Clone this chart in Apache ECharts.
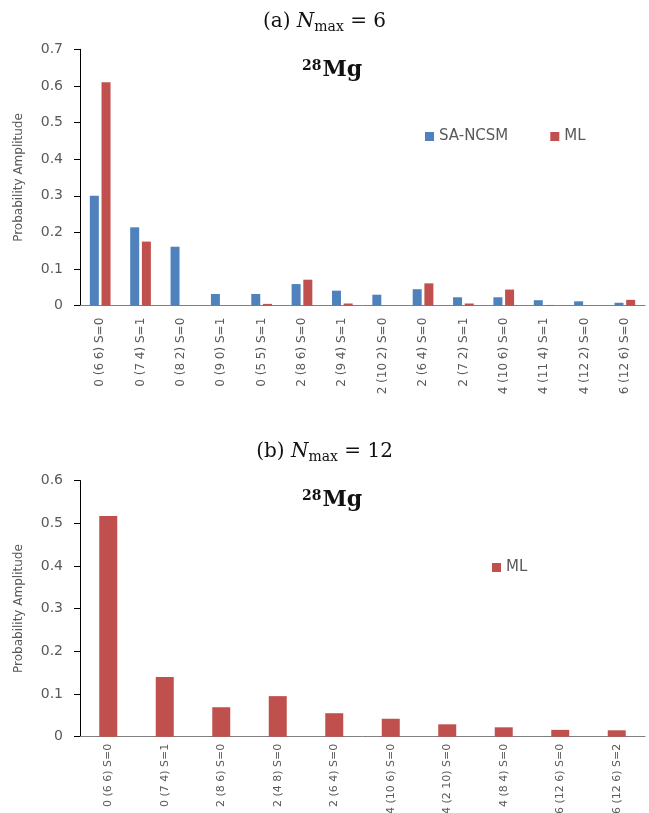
<!DOCTYPE html>
<html>
<head>
<meta charset="utf-8">
<script src="https://cdn.jsdelivr.net/npm/echarts@6/dist/echarts.min.js"></script>
<style>
	html, body { margin: 0; padding: 0; background: #fff; }
	#chart { width: 649px; height: 813px; }
</style>
</head>
<body>
<div id="chart"></div>
<script>
// (a) Nmax = 6
const categoriesA = [
	"0 (6 6) S=0", "0 (7 4) S=1", "0 (8 2) S=0", "0 (9 0) S=1", "0 (5 5) S=1",
	"2 (8 6) S=0", "2 (9 4) S=1", "2 (10 2) S=0", "2 (6 4) S=0", "2 (7 2) S=1",
	"4 (10 6) S=0", "4 (11 4) S=1", "4 (12 2) S=0", "6 (12 6) S=0"
];
const saNcsmA = [0.300, 0.214, 0.161, 0.032, 0.032, 0.059, 0.041, 0.030, 0.045, 0.023, 0.023, 0.015, 0.012, 0.008];
const mlA = [0.610, 0.175, 0, 0, 0.005, 0.071, 0.006, 0, 0.061, 0.006, 0.044, 0.002, 0, 0.016];

// (b) Nmax = 12
const categoriesB = [
	"0 (6 6) S=0", "0 (7 4) S=1", "2 (8 6) S=0", "2 (4 8) S=0", "2 (6 4) S=0",
	"4 (10 6) S=0", "4 (2 10) S=0", "4 (8 4) S=0", "6 (12 6) S=0", "6 (12 6) S=2"
];
const mlB = [0.517, 0.140, 0.069, 0.095, 0.055, 0.042, 0.029, 0.022, 0.016, 0.015];

const blue = "#4F81BD";
const red = "#C0504D";
const grey = "#595959";
const sans = "DejaVu Sans";
const serif = "DejaVu Serif";

function yAxisFor(idx, max) {
	return {
		gridIndex: idx,
		type: "value",
		min: 0,
		max: max,
		interval: 0.1,
		name: "Probability Amplitude",
		nameLocation: "middle",
		nameGap: 55,
		nameTextStyle: { color: grey, fontFamily: sans, fontSize: 12 },
		axisLine: { show: true, lineStyle: { color: "#000", width: 1 } },
		axisTick: { show: true, length: 6, lineStyle: { color: "#000" } },
		splitLine: { show: false },
		axisLabel: {
			color: grey,
			fontFamily: sans,
			fontSize: 14,
			margin: 17,
			formatter: function(v) {
				return v === 0 ? "0" : v.toFixed(1);
			}
		}
	};
}

function xAxisFor(idx, data, size, gap) {
	return {
		gridIndex: idx,
		type: "category",
		data: data,
		axisLine: { show: true, lineStyle: { color: "#808080", width: 1 } },
		axisTick: { show: false },
		axisLabel: {
			rotate: 90,
			interval: 0,
			margin: gap,
			color: grey,
			fontFamily: sans,
			fontSize: size
		}
	};
}

function heading(letter, n, top) {
	return {
		text: "(" + letter + ") {i|N}{s|max} = " + n,
		left: "center",
		top: top,
		textStyle: {
			fontFamily: serif,
			fontSize: 20,
			fontWeight: "normal",
			color: "#111",
			rich: {
				i: { fontFamily: serif, fontSize: 20, fontStyle: "italic", color: "#111" },
				s: { fontFamily: serif, fontSize: 14, color: "#111", padding: [10, 0, 0, 0] }
			}
		}
	};
}

function nucleus(top) {
	return {
		text: "{p|28}{m|Mg}",
		left: 297,
		top: top,
		textStyle: {
			rich: {
				p: { fontFamily: serif, fontSize: 14, fontWeight: "bold", color: "#111", padding: [0, 1, 8, 0] },
				m: { fontFamily: serif, fontSize: 22, fontWeight: "bold", color: "#111" }
			}
		}
	};
}

let chart = echarts.init(document.getElementById("chart"));

let option = {
	animation: false,
	backgroundColor: "#fff",
	title: [
		heading("a", 6, 5),
		nucleus(54),
		heading("b", 12, 435),
		nucleus(484)
	],
	legend: [
		{
			data: ["SA-NCSM", "ML"],
			left: 420,
			top: 124,
			icon: "rect",
			itemWidth: 9,
			itemHeight: 9,
			itemGap: 42,
			textStyle: { color: grey, fontFamily: sans, fontSize: 15 }
		},
		{
			data: ["ML"],
			left: 487,
			top: 555,
			icon: "rect",
			itemWidth: 9,
			itemHeight: 9,
			textStyle: { color: grey, fontFamily: sans, fontSize: 15 }
		}
	],
	grid: [
		{ left: 80, top: 49.3, width: 565, height: 256.4, containLabel: false, outerBoundsMode: "none" },
		{ left: 80, top: 480.5, width: 565, height: 256.2, containLabel: false, outerBoundsMode: "none" }
	],
	xAxis: [xAxisFor(0, categoriesA, 12, 12), xAxisFor(1, categoriesB, 11, 7)],
	yAxis: [yAxisFor(0, 0.7), yAxisFor(1, 0.6)],
	series: [
		{
			name: "SA-NCSM",
			type: "bar",
			xAxisIndex: 0,
			yAxisIndex: 0,
			data: saNcsmA,
			barWidth: 9,
			barGap: "30%",
			itemStyle: { color: blue }
		},
		{
			name: "ML",
			type: "bar",
			xAxisIndex: 0,
			yAxisIndex: 0,
			data: mlA,
			barWidth: 9,
			barGap: "30%",
			itemStyle: { color: red }
		},
		{
			name: "ML",
			type: "bar",
			xAxisIndex: 1,
			yAxisIndex: 1,
			data: mlB,
			barWidth: 18,
			itemStyle: { color: red }
		}
	]
};

chart.setOption(option);
</script>
</body>
</html>
